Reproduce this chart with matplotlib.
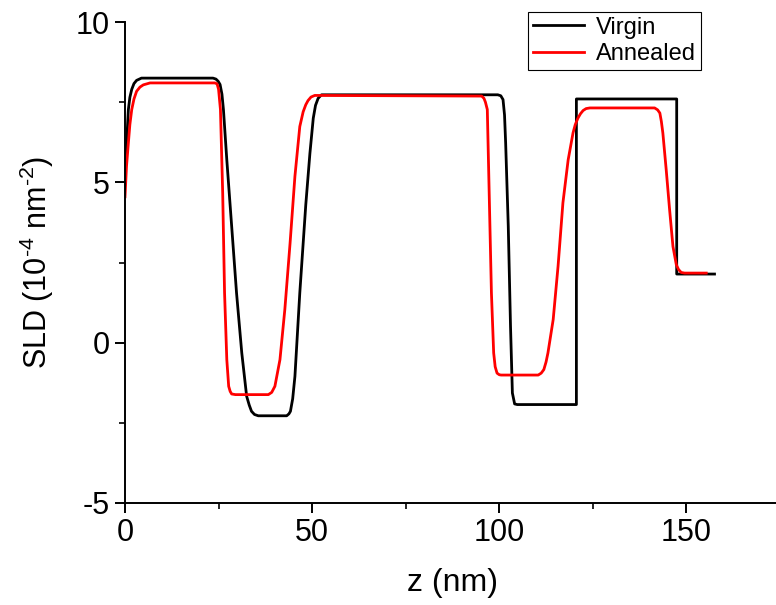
import matplotlib
matplotlib.use('Agg')
import matplotlib.pyplot as plt
from matplotlib.ticker import MultipleLocator

plt.rcParams['font.family'] = ['Liberation Sans', 'DejaVu Sans']
plt.rcParams['mathtext.fontset'] = 'custom'
plt.rcParams['mathtext.rm'] = 'Liberation Sans'
plt.rcParams['mathtext.it'] = 'Liberation Sans'
plt.rcParams['axes.unicode_minus'] = False

# SLD depth profiles (z in nm, SLD in 1e-4 nm^-2)
z_virgin = [0, 0.3, 0.6, 0.9, 1.3, 1.8, 2.4, 3.1, 4.4, 23.5, 24.3, 24.9, 25.4,
            25.9, 26.3, 27.2, 28.5, 29.8, 31.2, 32.5, 33.2, 33.8, 34.6, 35.6,
            43.2, 43.8, 44.2, 44.8, 45.4, 46.7, 48.3, 49.4, 50.3, 50.9, 51.6,
            52.5, 99.6, 100.4, 101.0, 101.4, 101.7, 102.4, 103.0, 103.5, 104.1,
            104.8, 120.6, 120.6, 147.4, 147.4, 157.5]
sld_virgin = [5.08, 5.9, 6.6, 7.27, 7.65, 7.9, 8.08, 8.18, 8.25, 8.25, 8.22, 8.15, 8.05,
              7.75, 7.27, 5.7, 3.63, 1.55, -0.32, -1.67, -1.95, -2.14, -2.24, -2.28,
              -2.28, -2.22, -2.14, -1.75, -1.05, 1.55, 4.3, 5.9, 7.0, 7.4, 7.62,
              7.73, 7.73, 7.7, 7.58, 7.1, 6.23, 3.63, 0.51, -1.57, -1.91,
              -1.93, -1.93, 7.6, 7.6, 2.14, 2.14]

z_annealed = [0, 0.4, 0.9, 1.3, 1.8, 2.4, 3.1, 4.0, 4.9, 6.7, 24.0, 24.6, 25.0,
              25.5, 26.1, 26.6, 27.2, 27.7, 28.1, 28.5, 29.5, 38.3, 39.2, 40.05,
              41.4, 42.7, 44.1, 45.4, 46.7, 47.6, 48.3, 48.9, 49.7, 50.7, 95.3,
              95.9, 96.3, 96.8, 97.3, 97.9, 98.5, 98.9, 99.4, 100.0, 100.5, 110.4,
              111.2, 111.9, 112.5, 113.0, 114.4, 115.7, 117.0, 118.4, 119.7,
              120.3, 121.0, 121.7, 122.4, 123.2, 124.2, 141.5, 142.3, 142.9,
              143.3, 143.7, 144.6, 145.5, 146.4, 147.3, 147.9, 148.6, 149.5, 155.3]
sld_annealed = [4.55, 5.5, 6.23, 6.8, 7.27, 7.6, 7.84, 7.97, 8.04, 8.1, 8.1, 8.07, 7.9,
                7.27, 4.67, 1.55, -0.53, -1.36, -1.52, -1.6, -1.62, -1.62, -1.55, -1.36,
                -0.53, 1.03, 3.1, 5.19, 6.74, 7.2, 7.42, 7.55, 7.66, 7.71, 7.69,
                7.62, 7.5, 7.27, 4.67, 1.55, -0.32, -0.75, -0.95, -1.0, -1.01, -1.01,
                -0.95, -0.84, -0.6, -0.32, 0.72, 2.38, 4.36, 5.7, 6.54,
                6.8, 7.0, 7.14, 7.24, 7.3, 7.32, 7.32, 7.26, 7.16,
                6.9, 6.54, 5.39, 4.15, 3.0, 2.43, 2.28, 2.19, 2.17, 2.17]

fig = plt.figure(figsize=(7.76, 6.05), dpi=100)
ax = fig.add_axes([125 / 776, 102 / 605, 655 / 776, 481 / 605])

ax.plot(z_virgin, sld_virgin, color='black', lw=2.0, label='Virgin')
ax.plot(z_annealed, sld_annealed, color='red', lw=2.0, label='Annealed')

ax.set_xlim(0, 175)
ax.set_ylim(-5, 10)
ax.xaxis.set_major_locator(MultipleLocator(50))
ax.xaxis.set_minor_locator(MultipleLocator(25))
ax.yaxis.set_major_locator(MultipleLocator(5))
ax.yaxis.set_minor_locator(MultipleLocator(2.5))

for side in ('top', 'right'):
    ax.spines[side].set_visible(False)
for side in ('left', 'bottom'):
    ax.spines[side].set_linewidth(1.4)

ax.tick_params(which='major', direction='out', length=7, width=1.4,
               labelsize=22, pad=4)
ax.tick_params(which='minor', direction='out', length=4, width=1.2)

ax.set_xlabel('z (nm)', fontsize=23, labelpad=14)
ax.set_ylabel(r'SLD (10$^{\text{-}4}$ nm$^{\text{-}2}$)', fontsize=22, labelpad=14)

leg = ax.legend(loc='upper right', bbox_to_anchor=(701 / 776, 1 - 12 / 605),
                bbox_transform=fig.transFigure, borderaxespad=0,
                fontsize=17, fancybox=False, handlelength=2.2,
                handletextpad=0.5, borderpad=0.2, labelspacing=0.2,
                framealpha=1)
leg.get_frame().set_edgecolor('black')
leg.get_frame().set_linewidth(0.8)

fig.savefig('out.png', dpi=100)
